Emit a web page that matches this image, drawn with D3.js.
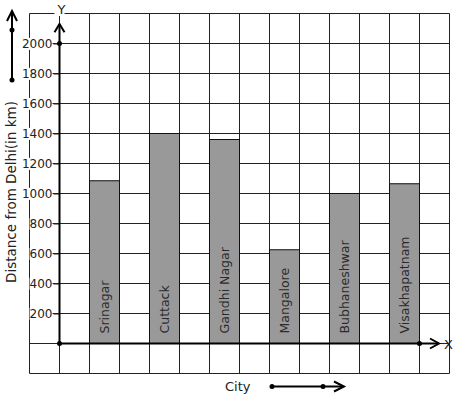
<!DOCTYPE html>
<html>
<head>
<meta charset="utf-8">
<script src="https://cdn.jsdelivr.net/npm/d3@7"></script>
<style>
  body { margin: 0; background: #fff; }
  svg { display: block; font-family: "DejaVu Sans", sans-serif; }
</style>
</head>
<body>
<script>
const cities = ["Srinagar", "Cuttack", "Gandhi Nagar", "Mangalore", "Bubhaneshwar", "Visakhapatnam"];
const distances = [1085, 1400, 1360, 625, 1000, 1065];
const yTicks = [200, 400, 600, 800, 1000, 1200, 1400, 1600, 1800, 2000];

const width = 457, height = 399;

const svg = d3.select("body")
    .append("svg")
    .attr("width", width)
    .attr("height", height);

// one grid cell = 30px; x in cell units, origin at 0
const x = d3.scaleLinear().domain([-1, 13]).range([29.5, 449.5]);
const y = d3.scaleLinear().domain([-200, 2200]).range([373.5, 13.5]);

// grid
const grid = svg.append("g").attr("stroke", "#222").attr("stroke-width", 1);
grid.selectAll("line.v")
    .data(d3.range(-1, 14))
    .enter().append("line")
    .attr("x1", d => x(d)).attr("x2", d => x(d))
    .attr("y1", y(2200)).attr("y2", y(-200));
grid.selectAll("line.h")
    .data(d3.range(-200, 2201, 200))
    .enter().append("line")
    .attr("x1", x(-1)).attr("x2", x(13))
    .attr("y1", d => y(d)).attr("y2", d => y(d));

// bars
svg.selectAll("rect.bar")
    .data(distances)
    .enter().append("rect")
    .attr("x", (d, i) => x(1 + 2 * i))
    .attr("y", d => y(d))
    .attr("width", x(2) - x(1))
    .attr("height", d => y(0) - y(d))
    .attr("fill", "#999")
    .attr("stroke", "#111")
    .attr("stroke-width", 1);

svg.selectAll("text.city")
    .data(cities)
    .enter().append("text")
    .attr("transform", (d, i) => `translate(${x(1.5 + 2 * i) + 4.5},${y(0) - 10}) rotate(-90)`)
    .attr("font-size", 12.5)
    .attr("fill", "#2a2a2a")
    .text(d => d);

// y axis ticks with white label backgrounds
const yAxis = svg.append("g")
    .attr("transform", `translate(${x(0)},0)`)
    .call(d3.axisLeft(y).tickValues(yTicks).tickSize(6).tickPadding(1).tickFormat(d3.format("d")));
yAxis.select(".domain").remove();
yAxis.selectAll(".tick line").attr("stroke", "#222");
yAxis.selectAll(".tick text")
    .attr("font-size", 12)
    .attr("font-family", "DejaVu Sans, sans-serif")
    .attr("fill", "#222");
yAxis.selectAll(".tick").each(function () {
    const t = d3.select(this).select("text");
    const b = t.node().getBBox();
    d3.select(this).insert("rect", "text")
        .attr("x", b.x).attr("y", b.y + 1)
        .attr("width", b.width).attr("height", b.height - 2)
        .attr("fill", "#fff");
});

// axes with arrows
const axes = svg.append("g").attr("stroke", "#000").attr("stroke-width", 2).attr("fill", "none");
const ox = x(0), oy = y(0);
axes.append("line").attr("x1", ox).attr("y1", oy).attr("x2", ox).attr("y2", y(2130));
axes.append("path").attr("d", `M${ox - 5},${y(2075)}L${ox},${y(2130)}L${ox + 5},${y(2075)}`);
axes.append("line").attr("x1", ox).attr("y1", oy).attr("x2", x(12.65)).attr("y2", oy);
axes.append("path").attr("d", `M${x(12.35)},${oy - 5}L${x(12.65)},${oy}L${x(12.35)},${oy + 5}`);

svg.append("circle").attr("cx", ox).attr("cy", oy).attr("r", 2.5).attr("fill", "#000");
svg.append("circle").attr("cx", ox).attr("cy", y(2000)).attr("r", 2.5).attr("fill", "#000");
svg.append("circle").attr("cx", x(12)).attr("cy", oy).attr("r", 2.5).attr("fill", "#000");

// axis letters
const yl = svg.append("g");
yl.append("rect").attr("x", ox - 5).attr("y", 4).attr("width", 10).attr("height", 12).attr("fill", "#fff");
yl.append("text").attr("x", ox + 2).attr("y", 14).attr("text-anchor", "middle")
    .attr("font-size", 13).attr("fill", "#222").text("Y");
svg.append("text").attr("x", 444).attr("y", oy + 5)
    .attr("font-size", 13).attr("fill", "#222").text("X");

// axis titles
svg.append("text")
    .attr("transform", "translate(16,192) rotate(-90)")
    .attr("text-anchor", "middle")
    .attr("font-size", 13.5)
    .attr("fill", "#222")
    .text("Distance from Delhi(in km)");

svg.append("text")
    .attr("x", 225).attr("y", 391)
    .attr("font-size", 13)
    .attr("fill", "#222")
    .text("City");

// decorative direction arrows
const deco = svg.append("g").attr("stroke", "#000").attr("stroke-width", 2).attr("fill", "none");
deco.append("line").attr("x1", 12).attr("y1", 80).attr("x2", 12).attr("y2", 12);
deco.append("path").attr("d", "M7,21L12,11L17,21");
deco.append("line").attr("x1", 272).attr("y1", 386.5).attr("x2", 343).attr("y2", 386.5);
deco.append("path").attr("d", "M334,381.5L344,386.5L334,391.5");
[[12, 30], [12, 80], [272, 386.5], [323, 386.5]].forEach(p => {
    svg.append("circle").attr("cx", p[0]).attr("cy", p[1]).attr("r", 2.5).attr("fill", "#000");
});
</script>
</body>
</html>
